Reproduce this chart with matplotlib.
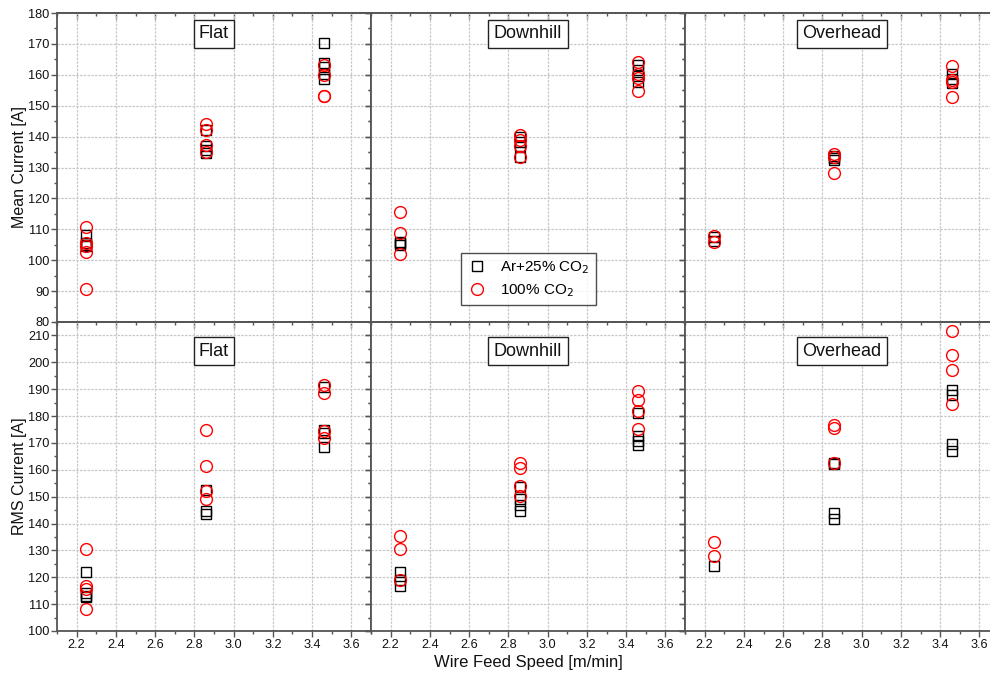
import matplotlib
matplotlib.use("Agg")
import matplotlib.pyplot as plt
from matplotlib.ticker import MultipleLocator
import numpy as np

plt.rcParams['font.family'] = ['Liberation Sans', 'DejaVu Sans']

wfs = [2.25, 2.86, 3.46]
positions = ["Flat", "Downhill", "Overhead"]

# Mean current [A]: per position, per wire feed speed, list of repeats
mean_ar = {
    "Flat":     [[108.2, 105.5, 104.5, 105.0], [142.1, 136.8, 134.8, 135.7], [170.4, 163.9, 162.6, 160.3, 158.6]],
    "Downhill": [[105.5, 105.0, 106.0],        [140.0, 138.4, 136.8, 133.3], [163.1, 161.5, 159.5, 157.7]],
    "Overhead": [[107.4, 106.1],               [133.7, 132.4, 133.2],        [160.3, 158.6, 157.3]],
}
mean_co2 = {
    "Flat":     [[110.8, 105.5, 104.5, 102.6, 90.7], [144.0, 142.1, 137.3, 135.1], [163.2, 160.0, 153.2, 153.0]],
    "Downhill": [[115.6, 108.9, 102.0],              [140.4, 139.0, 136.8, 133.5], [164.1, 160.3, 159.0, 154.9]],
    "Overhead": [[107.8, 105.8],                     [134.4, 133.3, 128.3],        [162.7, 158.2, 157.7, 152.7]],
}
# RMS current [A]
rms_ar = {
    "Flat":     [[122.0, 114.1, 113.1, 112.5], [152.4, 144.5, 143.5], [190.9, 174.8, 173.8, 168.5]],
    "Downhill": [[122.0, 119.0, 116.6],        [153.6, 149.3, 147.0, 144.6], [181.2, 172.7, 170.8, 169.2]],
    "Overhead": [[124.1],                      [162.5, 162.0, 144.0, 141.5], [189.7, 187.9, 169.5, 166.9]],
}
rms_co2 = {
    "Flat":     [[130.7, 116.6, 115.8, 108.2], [174.9, 161.5, 152.0, 149.0], [191.7, 188.7, 174.4, 172.0]],
    "Downhill": [[135.5, 130.5, 119.1],        [162.7, 160.6, 154.0, 150.1], [189.5, 186.0, 181.7, 175.2]],
    "Overhead": [[133.3, 127.9],               [176.7, 175.7, 162.5],        [211.6, 202.9, 197.1, 184.5]],
}

W, H = 990, 678
fig = plt.figure(figsize=(W / 100, H / 100), dpi=100)

col_left = [57, 371, 685]
col_w = 314
row_top = [13, 322]
row_h = 309

spine_c = '#555555'
grid_c = '#c8c8c8'

axes = {}
for r in range(2):
    for c in range(3):
        x0 = col_left[c] / W
        y0 = 1 - (row_top[r] + row_h) / H
        ax = fig.add_axes([x0, y0, col_w / W, row_h / H])
        axes[(r, c)] = ax

def style(ax, r, c):
    ax.set_xlim(2.1, 3.7)
    if r == 0:
        ax.set_ylim(80, 180)
    else:
        ax.set_ylim(100, 215)
    ax.xaxis.set_major_locator(MultipleLocator(0.2))
    ax.xaxis.set_minor_locator(MultipleLocator(0.1))
    ax.yaxis.set_major_locator(MultipleLocator(10))
    ax.yaxis.set_minor_locator(MultipleLocator(5))
    ax.grid(True, which='major', color=grid_c, linestyle=(0, (2, 1)), linewidth=0.9)
    ax.set_axisbelow(True)
    for s in ax.spines.values():
        s.set_color(spine_c)
        s.set_linewidth(1.3)
    ax.tick_params(which='both', direction='out', top=False, right=False,
                   color=spine_c, labelsize=9.2, labelcolor='#111111', width=1.0, pad=1.5)
    ax.tick_params(which='major', length=4)
    ax.tick_params(which='minor', length=2.5)
    ax.xaxis.set_major_formatter(matplotlib.ticker.FormatStrFormatter('%.1f'))
    if r == 0:
        ax.tick_params(labelbottom=False)
    if c != 0:
        ax.tick_params(labelleft=False)
    for side, axis in (('top', 'x'), ('right', 'y')):
        if axis == 'x':
            sec = ax.secondary_xaxis(side)
            sec.xaxis.set_major_locator(MultipleLocator(0.2))
            sec.xaxis.set_minor_locator(MultipleLocator(0.1))
        else:
            sec = ax.secondary_yaxis(side)
            sec.yaxis.set_major_locator(MultipleLocator(10))
            sec.yaxis.set_minor_locator(MultipleLocator(5))
        sec.tick_params(which='both', direction='in', color=spine_c, width=1.0,
                        labeltop=False, labelright=False)
        sec.tick_params(which='major', length=4)
        sec.tick_params(which='minor', length=2.5)
        for s in sec.spines.values():
            s.set_color(spine_c)
            s.set_linewidth(1.3)

def plot_groups(ax, data_ar, data_co2, pos):
    for i, x in enumerate(wfs):
        ya = data_ar[pos][i]
        yc = data_co2[pos][i]
        ax.plot([x] * len(ya), ya, linestyle='none', marker='s', markersize=7,
                markerfacecolor='none', markeredgecolor='black', markeredgewidth=1.0,
                label='Ar+25% CO$_2$' if i == 0 else None)
        ax.plot([x] * len(yc), yc, linestyle='none', marker='o', markersize=8.5,
                markerfacecolor='none', markeredgecolor='red', markeredgewidth=1.0,
                label='100% CO$_2$' if i == 0 else None)

for c, pos in enumerate(positions):
    for r, (da, dc) in enumerate([(mean_ar, mean_co2), (rms_ar, rms_co2)]):
        ax = axes[(r, c)]
        style(ax, r, c)
        plot_groups(ax, da, dc, pos)
        ax.text(0.5, 0.933 if r == 0 else 0.905, pos, transform=ax.transAxes,
                ha='center', va='center', fontsize=13, color='#111111',
                bbox=dict(boxstyle='square,pad=0.3', facecolor='white',
                          edgecolor='#222222', linewidth=1.0), zorder=5)

for r, lab in ((0, 'Mean Current [A]'), (1, 'RMS Current [A]')):
    a = axes[(r, 0)]
    a.set_ylabel(lab, fontsize=11.5, color='#111111')
    a.yaxis.set_label_coords(-0.097, 0.5)
xl = axes[(1, 1)]
xl.set_xlabel('Wire Feed Speed [m/min]', fontsize=12, color='#111111')
xl.xaxis.set_label_coords(0.5, -0.078)

leg = axes[(0, 1)].legend(loc='upper left', bbox_to_anchor=(461 / W, 1 - 253 / H),
                          bbox_transform=fig.transFigure, borderaxespad=0,
                          fontsize=11, frameon=True, fancybox=False,
                          markerscale=1.0, handlelength=1.2, handletextpad=0.9,
                          labelspacing=0.4, borderpad=0.42)
leg.get_frame().set_edgecolor('#222222')
leg.get_frame().set_linewidth(1.0)

fig.savefig('out.png', dpi=100)
